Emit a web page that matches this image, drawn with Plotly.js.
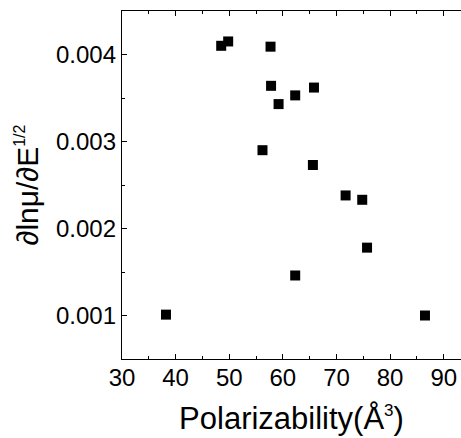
<!DOCTYPE html>
<html>
<head>
<meta charset="utf-8">
<script src="https://cdn.plot.ly/plotly-3.0.1.min.js"></script>
<style>html,body{margin:0;padding:0;background:#fff;}#chart{width:461px;height:438px;}</style>
</head>
<body>
<div id="chart"></div>
<script>
const polarizability = [38.2, 48.5, 49.8, 57.7, 57.8, 59.2, 56.2, 62.3, 65.8, 65.6, 71.7, 74.8, 75.7, 62.3, 86.5];
const slope = [0.00101, 0.00410, 0.00415, 0.00409, 0.00364, 0.00343, 0.00290, 0.00353, 0.00362, 0.00273, 0.00238, 0.00233, 0.00178, 0.00146, 0.00100];
const xTicks = [30, 40, 50, 60, 70, 80, 90];
const yTicks = [0.001, 0.002, 0.003, 0.004];
const yTickLabels = ['0.001', '0.002', '0.003', '0.004'];

const font = 'Liberation Sans, Arial, Helvetica, sans-serif';
const trace = {
  x: polarizability, y: slope, type: 'scatter', mode: 'markers',
  marker: {symbol: 'square', size: 10, color: '#000'},
  showlegend: false, hoverinfo: 'none'
};
const layout = {
  width: 461, height: 438,
  margin: {l: 122, r: 0, t: 11, b: 79},
  paper_bgcolor: '#fff', plot_bgcolor: '#fff',
  font: {family: font, color: '#000', size: 24},
  xaxis: {
    range: [30, 93.22], tickvals: xTicks, ticktext: xTicks.map(String),
    ticks: 'inside', ticklen: 5, tickwidth: 1, tickcolor: '#000',
    showline: true, linecolor: '#000', linewidth: 1.2, mirror: 'ticks',
    showgrid: false, zeroline: false, ticklabelstandoff: -3,
    minor: {dtick: 5, tick0: 0, ticks: 'inside', ticklen: 3, tickcolor: '#000', showgrid: false},
    tickfont: {size: 24, family: font, color: '#000'},
    title: {text: 'Polarizability(Å<sup><span style="font-size:17px">3</span></sup>)', font: {size: 31, family: font, color: '#000'}, standoff: 17}
  },
  yaxis: {
    range: [0.0005, 0.0045], tickvals: yTicks, ticktext: yTickLabels,
    ticks: 'inside', ticklen: 5, tickwidth: 1, tickcolor: '#000',
    showline: true, linecolor: '#000', linewidth: 1.2, mirror: false,
    showgrid: false, zeroline: false,
    minor: {dtick: 0.0005, tick0: 0, ticks: 'inside', ticklen: 3, tickcolor: '#000', showgrid: false},
    tickfont: {size: 24, family: font, color: '#000'},
    title: {text: '∂lnμ/∂E<sup><span style="font-size:16px">1/2</span></sup>', font: {size: 30, family: font, color: '#000'}, standoff: 8}
  }
};
Plotly.newPlot('chart', [trace], layout, {displayModeBar: false, staticPlot: true});
</script>
</body>
</html>
